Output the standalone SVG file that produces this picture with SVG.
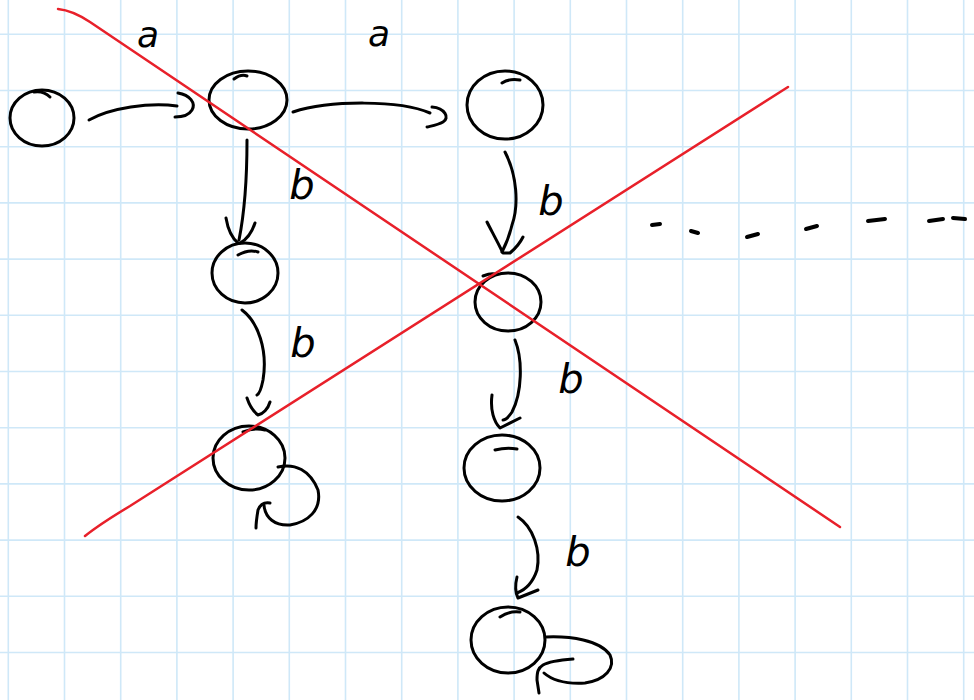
<svg xmlns="http://www.w3.org/2000/svg" width="974" height="700" viewBox="0 0 974 700">
<defs>
<style>
.grid line{stroke:#cfe8f8;stroke-width:1.6}
.ink{fill:none;stroke:#000;stroke-width:3;stroke-linecap:round;stroke-linejoin:round}
.red{fill:none;stroke:#e8202a;stroke-width:2.5;stroke-linecap:round}
.lbl{font-family:"DejaVu Sans",sans-serif;font-style:italic;fill:#000}
.dash{stroke:#000;stroke-width:4;stroke-linecap:round}
</style>
</defs>
<rect width="974" height="700" fill="#fff"/>
<g class="grid">
<line x1="8.3" y1="0" x2="8.3" y2="700"/><line x1="64.5" y1="0" x2="64.5" y2="700"/><line x1="120.7" y1="0" x2="120.7" y2="700"/><line x1="176.9" y1="0" x2="176.9" y2="700"/><line x1="233.1" y1="0" x2="233.1" y2="700"/><line x1="289.3" y1="0" x2="289.3" y2="700"/><line x1="345.5" y1="0" x2="345.5" y2="700"/><line x1="401.7" y1="0" x2="401.7" y2="700"/><line x1="457.9" y1="0" x2="457.9" y2="700"/><line x1="514.1" y1="0" x2="514.1" y2="700"/><line x1="570.3" y1="0" x2="570.3" y2="700"/><line x1="626.5" y1="0" x2="626.5" y2="700"/><line x1="682.7" y1="0" x2="682.7" y2="700"/><line x1="738.9" y1="0" x2="738.9" y2="700"/><line x1="795.1" y1="0" x2="795.1" y2="700"/><line x1="851.3" y1="0" x2="851.3" y2="700"/><line x1="907.5" y1="0" x2="907.5" y2="700"/><line x1="963.7" y1="0" x2="963.7" y2="700"/>
<line x1="0" y1="34.3" x2="974" y2="34.3"/><line x1="0" y1="90.5" x2="974" y2="90.5"/><line x1="0" y1="146.7" x2="974" y2="146.7"/><line x1="0" y1="202.9" x2="974" y2="202.9"/><line x1="0" y1="259.1" x2="974" y2="259.1"/><line x1="0" y1="315.3" x2="974" y2="315.3"/><line x1="0" y1="371.5" x2="974" y2="371.5"/><line x1="0" y1="427.7" x2="974" y2="427.7"/><line x1="0" y1="483.9" x2="974" y2="483.9"/><line x1="0" y1="540.1" x2="974" y2="540.1"/><line x1="0" y1="596.3" x2="974" y2="596.3"/><line x1="0" y1="652.5" x2="974" y2="652.5"/>
</g>
<g id="nodes" class="ink">
<g id="n0"><ellipse cx="42" cy="118" rx="32" ry="28"/><path d="M34,92 C40,91 46,93 50,97"/></g>
<g id="n1"><ellipse cx="248" cy="100" rx="39" ry="29"/><path d="M234,79 C238,76 242,74 247,76"/></g>
<g id="n2"><ellipse cx="505" cy="105" rx="38" ry="34"/><path d="M502,83 C508,79 514,79 520,80"/></g>
<g id="n3"><ellipse cx="245" cy="273" rx="33" ry="30"/><path d="M238,255 C245,251 252,250 258,252"/></g>
<g id="n4"><ellipse cx="249" cy="458" rx="36" ry="32"/><path d="M243,432 C250,429 258,428 265,430"/></g>
<g id="n5"><ellipse cx="508" cy="302" rx="33" ry="29"/><path d="M483,276 C488,274 492,273 495,274"/></g>
<g id="n6"><ellipse cx="502" cy="468" rx="38" ry="33"/><path d="M495,450 C503,448 511,448 517,449"/></g>
<g id="n7"><ellipse cx="508" cy="640" rx="37" ry="33"/><path d="M500,617 C506,613 513,611 520,612"/></g>
</g>
<g id="connectors" class="ink">
<path d="M89,120 C110,108 150,102 177,106"/><path d="M178,93 C190,95 196,103 192,110 C189,115 182,117 175,117"/>
<path d="M293,112 C330,100 400,100 430,113"/><path d="M432,107 C445,108 450,118 443,122 C438,125 431,126 427,127"/>
<path d="M247,140 C247,170 245,210 239,240"/><path d="M226,218 C228,230 232,238 238,243 M255,223 C252,232 248,239 240,243"/>
<path d="M505,152 C517,175 519,205 512,225 C509,238 505,246 502,252"/><path d="M487,222 C491,230 495,237 503,253 L510,253 C516,248 520,243 523,237"/>
<path d="M242,310 C258,322 268,350 263,380 C261,390 259,394 257,395"/><path d="M247,398 C250,407 254,412 258,415 C263,414 268,409 270,402"/>
<path d="M515,340 C523,360 522,393 512,412 C508,418 505,420 503,420"/><path d="M492,395 C490,410 494,422 500,428 L520,418"/>
<path d="M518,517 C533,527 541,550 537,570 C533,582 525,590 517,593"/><path d="M517,577 C515,585 515,592 518,598 L538,590"/>
<path d="M278,467 C295,463 310,470 318,490 C322,510 308,522 290,525 C275,526 265,518 264,505"/><path d="M270,503 C264,502 260,505 258,510 C257,516 256,522 256,528"/>
<path d="M546,637 C570,636 600,640 610,655 C616,668 605,680 585,683 C568,684 553,681 544,673"/><path d="M573,659 C560,660 548,662 543,665 C538,668 537,672 537,680 L539,693"/>
</g>
<g id="labels" class="lbl">
<text x="148" y="47" font-size="36" text-anchor="middle">a</text>
<text x="379" y="46" font-size="36" text-anchor="middle">a</text>
<text x="302" y="199" font-size="40" text-anchor="middle">b</text>
<text x="551" y="215" font-size="40" text-anchor="middle">b</text>
<text x="303" y="357" font-size="40" text-anchor="middle">b</text>
<text x="571" y="393" font-size="40" text-anchor="middle">b</text>
<text x="578" y="566" font-size="40" text-anchor="middle">b</text>
</g>
<g id="dots">
<line class="dash" x1="652" y1="225" x2="660" y2="224"/>
<line class="dash" x1="691" y1="231" x2="698" y2="233"/>
<line class="dash" x1="747" y1="237" x2="758" y2="234"/>
<line class="dash" x1="806" y1="229" x2="817" y2="226"/>
<line class="dash" x1="868" y1="221" x2="885" y2="219"/>
<line class="dash" x1="929" y1="221" x2="943" y2="219"/>
<line class="dash" x1="953" y1="218" x2="965" y2="219"/>
</g>
<g id="cross">
<path class="red" d="M58,9 C68,10 78,14 90,22 L840,527"/>
<path class="red" d="M85,536 C95,528 110,518 130,506 L788,87"/>
</g>
</svg>
